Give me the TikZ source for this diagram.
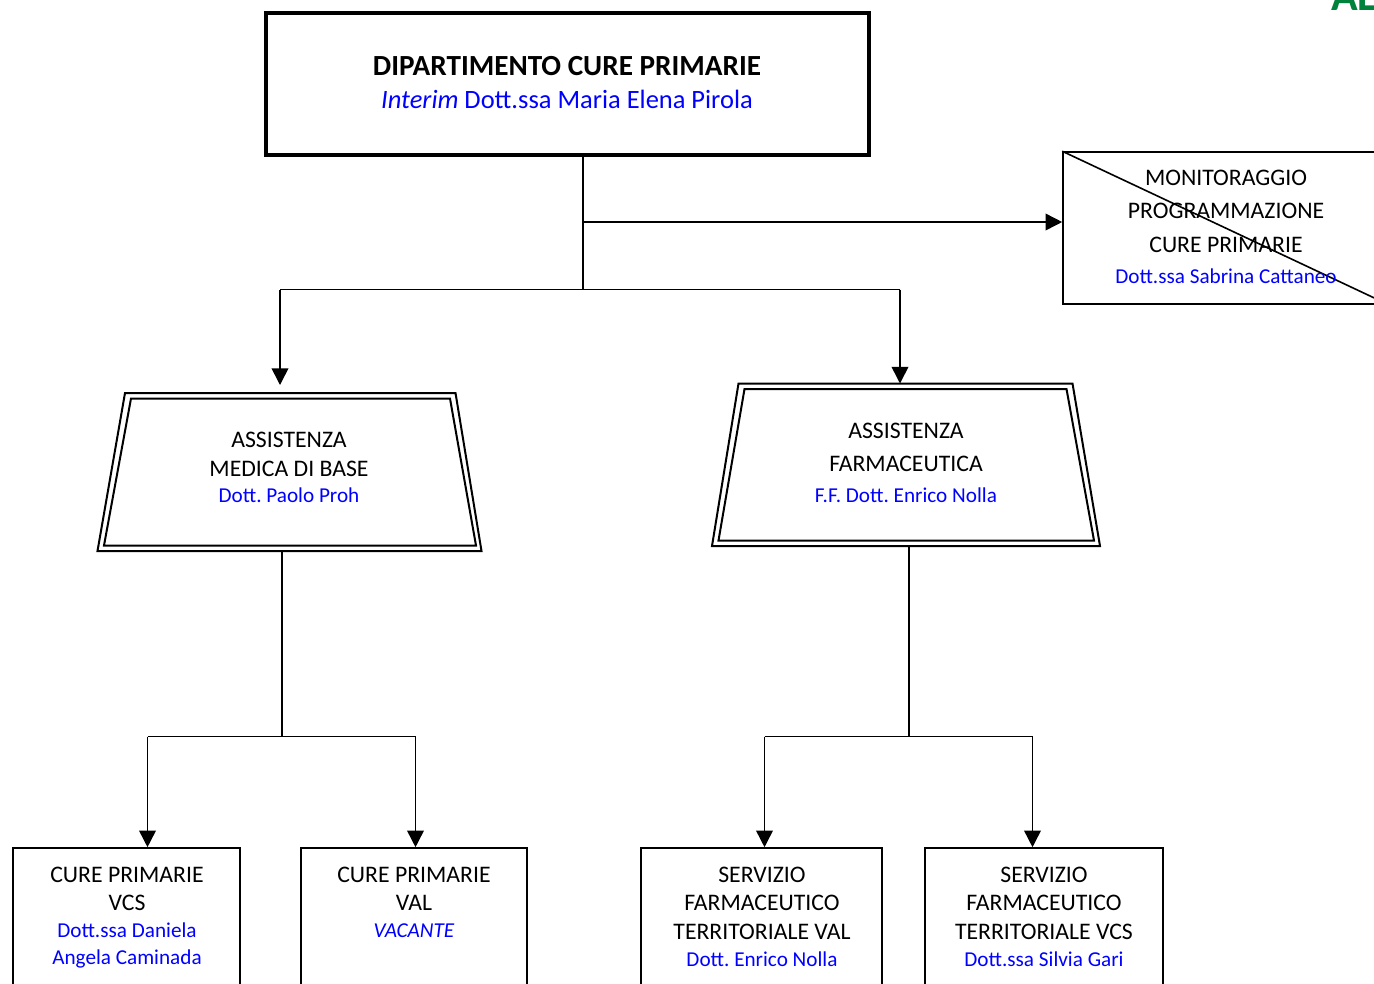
\documentclass[tikz,border=0pt]{standalone}
\usepackage{fontspec}
\setmainfont{Carlito}
\usetikzlibrary{arrows.meta}
\definecolor{nameblue}{RGB}{0,0,255}
\definecolor{agreen}{RGB}{0,130,60}
\frenchspacing
\begin{document}
\frenchspacing
\begin{tikzpicture}[x=0.75pt,y=-0.75pt,
  lbl/.style={anchor=base, inner sep=0pt, font=\fontsize{17.8}{20}\selectfont},
  nm/.style={anchor=base, inner sep=0pt, text=nameblue, font=\fontsize{15.9}{18}\selectfont},
  box/.style={draw, line width=1.2pt, inner sep=0pt},
  conn/.style={line width=1.2pt},
  arr/.style={line width=1.2pt, -{Triangle[length=12.5pt,width=12.5pt]}},
  trap/.style={line width=1.5pt, line join=miter}]
\useasboundingbox (0,0) rectangle (1374,983);

% top box
\node[box, line width=2.6pt, minimum width={603*0.75pt}, minimum height={142*0.75pt}] (dip) at (567.5,84) {};
\node[anchor=base, inner sep=0pt, font=\fontsize{21.9}{24}\selectfont\bfseries] (diptitle) at (567,75.4) {DIPARTIMENTO CURE PRIMARIE};
\node[anchor=base, inner sep=0pt, text=nameblue, font=\fontsize{19.85}{22}\selectfont] (dipname) at (567,108.5) {\textit{Interim} Dott.ssa Maria Elena Pirola};

% green corner text (cut off)
\node[anchor=base west, inner sep=0pt, text=agreen, font=\fontsize{33}{36}\selectfont\bfseries] (corner) at (1331,10) {AL};

% monitoring box
\node[box, minimum width={325*0.75pt}, minimum height={152*0.75pt}] (mon) at (1225.5,228) {};
\draw[conn] (mon.north west) -- (mon.south east);
\node[lbl] (mon1) at (1226,185.6) {MONITORAGGIO};
\node[lbl] (mon2) at (1226,218.6) {PROGRAMMAZIONE};
\node[lbl] (mon3) at (1226,252.6) {CURE PRIMARIE};
\node[nm] (mon4) at (1226,283.8) {Dott.ssa Sabrina Cattaneo};

% left trapezoid
\draw[trap] (125,393) -- (455.5,393) -- (481.5,551) -- (97.5,551) -- cycle;
\draw[trap] (131,398.5) -- (450,398.5) -- (476,545.5) -- (104,545.5) -- cycle;
\coordinate (ambtop) at (280,393);
\coordinate (ambbot) at (282,551);
\node[lbl] (amb1) at (289,447.6) {ASSISTENZA};
\node[lbl] (amb2) at (289,476.6) {MEDICA DI BASE};
\node[nm] (amb3) at (289,502.8) {Dott. Paolo Proh};

% right trapezoid
\draw[trap] (738.5,383.5) -- (1072.5,383.5) -- (1100,546) -- (712,546) -- cycle;
\draw[trap] (744.5,389) -- (1066.5,389) -- (1094,540.5) -- (718.5,540.5) -- cycle;
\coordinate (afttop) at (900,383.5);
\coordinate (aftbot) at (909,546);
\node[lbl] (aft1) at (906,438.6) {ASSISTENZA};
\node[lbl] (aft2) at (906,471.6) {FARMACEUTICA};
\node[nm] (aft3) at (906,502.8) {F.F. Dott. Enrico Nolla};

% bottom boxes
\node[box, minimum width={227*0.75pt}, minimum height={160*0.75pt}] (b1) at (126.5,928) {};
\node[box, minimum width={226*0.75pt}, minimum height={160*0.75pt}] (b2) at (414,928) {};
\node[box, minimum width={241*0.75pt}, minimum height={160*0.75pt}] (b3) at (761.5,928) {};
\node[box, minimum width={238*0.75pt}, minimum height={160*0.75pt}] (b4) at (1044,928) {};

\node[lbl] (b1a) at (127,882.6) {CURE PRIMARIE};
\node[lbl] (b1b) at (127,910.6) {VCS};
\node[nm] (b1c) at (127,937.8) {Dott.ssa Daniela};
\node[nm] (b1d) at (127,964.8) {Angela Caminada};

\node[lbl] (b2a) at (414,882.6) {CURE PRIMARIE};
\node[lbl] (b2b) at (414,910.6) {VAL};
\node[nm] (b2c) at (414,937.8) {\textit{VACANTE}};

\node[lbl] (b3a) at (762,882.6) {SERVIZIO};
\node[lbl] (b3b) at (762,910.6) {FARMACEUTICO};
\node[lbl] (b3c) at (762,939.6) {TERRITORIALE VAL};
\node[nm] (b3d) at (762,966.8) {Dott. Enrico Nolla};

\node[lbl] (b4a) at (1044,882.6) {SERVIZIO};
\node[lbl] (b4b) at (1044,910.6) {FARMACEUTICO};
\node[lbl] (b4c) at (1044,939.6) {TERRITORIALE VCS};
\node[nm] (b4d) at (1044,966.8) {Dott.ssa Silvia Gari};

% connectors from top box
\coordinate (j0) at (583,289.5);
\coordinate (jm) at (583,222);
\coordinate (jl) at (280,289.5);
\coordinate (jr) at (900,289.5);
\draw[conn] (dip.south -| j0) -- (j0);
\draw[conn] (jl) -- (jr);
\draw[arr] (jm) -- (jm -| mon.west);
\draw[arr, shorten >=6pt] (jl) -- (ambtop);
\draw[arr] (jr) -- (afttop);

% left branch
\coordinate (kl) at (282,736.5);
\coordinate (kl1) at (147.5,736.5);
\coordinate (kl2) at (415.5,736.5);
\draw[conn] (ambbot) -- (kl);
\draw[conn] (kl1) -- (kl2);
\draw[arr] (kl1) -- (kl1 |- b1.north);
\draw[arr] (kl2) -- (kl2 |- b2.north);

% right branch
\coordinate (kr) at (909,736.5);
\coordinate (kr1) at (764.5,736.5);
\coordinate (kr2) at (1032.5,736.5);
\draw[conn] (aftbot) -- (kr);
\draw[conn] (kr1) -- (kr2);
\draw[arr] (kr1) -- (kr1 |- b3.north);
\draw[arr] (kr2) -- (kr2 |- b4.north);
\end{tikzpicture}
\end{document}
